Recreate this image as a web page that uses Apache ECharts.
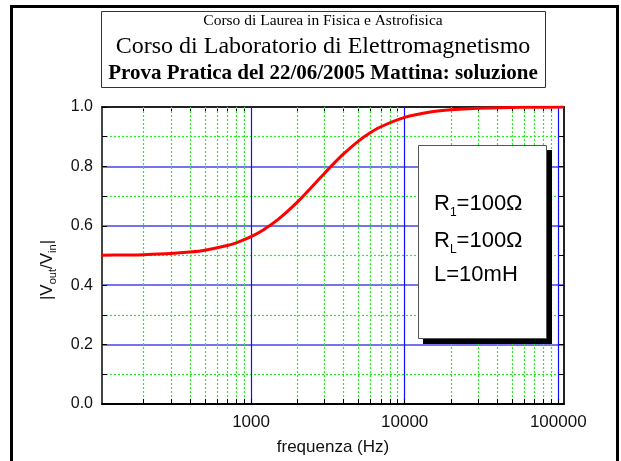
<!DOCTYPE html>
<html><head><meta charset="utf-8">
<script src="https://cdn.jsdelivr.net/npm/echarts@6/dist/echarts.min.js"></script>
<style>html,body{margin:0;padding:0;background:#fff}#c{width:621px;height:461px}</style>
</head><body><div id="c"></div>
<script>
// Data
const freq = [107,150,200,300,400,500,700,800,1000,1200,1500,2000,2500,3000,3500,4000,5000,6000,7000,10000,15000,20000,30000,50000,70000,109000];
const gain = [0.5008,0.5017,0.5029,0.5066,0.5115,0.5177,0.5335,0.5427,0.5634,0.5859,0.6215,0.6799,0.7322,0.7764,0.8127,0.8421,0.8853,0.9139,0.9335,0.9649,0.9837,0.9907,0.9958,0.9985,0.9992,0.9997];
const xMajorTicks = [1000,10000,100000];
const xMinorTicks = [200,300,400,500,600,700,800,900,2000,3000,4000,5000,6000,7000,8000,9000,20000,30000,40000,50000,60000,70000,80000,90000];
const titleLines = ['Corso di Laurea in Fisica e Astrofisica','Corso di Laboratorio di Elettromagnetismo','Prova Pratica del 22/06/2005 Mattina: soluzione'];
const xName = 'frequenza (Hz)';
const xMin = 107, xMax = 109000;

const chart = echarts.init(document.getElementById('c'), null, {renderer:'canvas'});
const sans = 'Liberation Sans, Arial, sans-serif';
const serif = 'Liberation Serif, Times New Roman, serif';
const green = '#22f022';
const legendRich = {m:{fontSize:22, fontFamily:sans, lineHeight:30, verticalAlign:'middle', fill:'#000'}, s:{fontSize:12, fontFamily:sans, lineHeight:12, verticalAlign:'bottom', fill:'#000'}};
const option = {
  backgroundColor:'#fff',
  animation:false,
  grid:{left:102, top:107, width:462, height:299, containLabel:false},
  xAxis:[
    {type:'log', logBase:10, min:xMin, max:xMax, position:'bottom', z:3,
     axisLine:{show:true, onZero:false, lineStyle:{color:'#000', width:2}},
     axisTick:{show:true, inside:true, length:5, customValues:xMajorTicks, lineStyle:{color:'#000', width:1}},
     axisLabel:{show:true, customValues:xMajorTicks, margin:10, fontSize:17, color:'#111', fontFamily:sans, formatter:v=>String(Math.round(v))},
     splitLine:{show:true, lineStyle:{color:'#1010ff', width:1.2}},
     name:xName, nameLocation:'middle', nameGap:35, nameTextStyle:{fontSize:17, color:'#111', fontFamily:sans}
    },
    {type:'log', logBase:10, min:xMin, max:xMax, position:'bottom', z:2,
     axisLine:{show:false},
     axisTick:{show:true, inside:true, length:5, customValues:xMinorTicks, lineStyle:{color:'#000', width:1}},
     axisLabel:{show:false},
     splitLine:{show:true, lineStyle:{color:green, width:1.2, type:[2,2]}}
    },
    {type:'log', logBase:10, min:xMin, max:xMax, position:'top',
     axisLine:{show:true, onZero:false, lineStyle:{color:'#222', width:2}},
     axisTick:{show:true, inside:true, length:5, customValues:xMajorTicks.concat(xMinorTicks), lineStyle:{color:'#000', width:1}},
     axisLabel:{show:false},
     splitLine:{show:false}
    }
  ],
  yAxis:[
    {type:'value', min:0, max:1, interval:0.2, position:'left',
     axisLine:{show:true, onZero:false, lineStyle:{color:'#444', width:2}},
     axisTick:{show:true, inside:true, length:5, lineStyle:{color:'#000'}},
     minorTick:{show:true, splitNumber:2, length:5, lineStyle:{color:'#000'}},
     axisLabel:{formatter:v=>v.toFixed(1), fontSize:16, color:'#111', fontFamily:sans, margin:9},
     splitLine:{show:true, lineStyle:{color:'#7474ee', width:2}},
     minorSplitLine:{show:true, lineStyle:{color:green, width:1.2, type:[2,2]}}
    },
    {type:'value', min:0, max:1, interval:0.2, position:'right',
     axisLine:{show:true, onZero:false, lineStyle:{color:'#222', width:2}},
     axisTick:{show:true, inside:true, length:5, lineStyle:{color:'#000'}},
     minorTick:{show:true, splitNumber:2, length:5, lineStyle:{color:'#000'}},
     axisLabel:{show:false},
     splitLine:{show:false}
    }
  ],
  series:[
    {type:'line', xAxisIndex:0, yAxisIndex:0, data:freq.map((f,i)=>[f,gain[i]]),
     showSymbol:false, smooth:0.3, lineStyle:{color:'#ff0000', width:3}, z:10}
  ],
  graphic:[
    {type:'rect', shape:{x:11.5, y:6.5, width:606, height:480}, style:{fill:'none', stroke:'#000', lineWidth:3}, z:1},
    {type:'rect', shape:{x:101.5, y:11.5, width:444, height:76}, style:{fill:'#fff', stroke:'#333', lineWidth:1}, z:50},
    {type:'text', x:323, y:21, style:{text:titleLines[0], font:'15.5px '+serif, fill:'#000', align:'center', verticalAlign:'middle'}, z:51},
    {type:'text', x:323, y:47, style:{text:titleLines[1], font:'24px '+serif, fill:'#000', align:'center', verticalAlign:'middle'}, z:51},
    {type:'text', x:323, y:74, style:{text:titleLines[2], font:'bold 21px '+serif, fill:'#000', align:'center', verticalAlign:'middle'}, z:51},
    {type:'rect', shape:{x:423, y:150, width:129, height:194}, style:{fill:'#000'}, z:100},
    {type:'rect', shape:{x:418.5, y:145.5, width:128, height:193}, style:{fill:'#fff', stroke:'#555', lineWidth:1}, z:101},
    {type:'text', x:434, y:204, z:102, style:{text:'{m|R}{s|1}{m|=100Ω}', align:'left', verticalAlign:'middle', rich:legendRich}},
    {type:'text', x:434, y:241, z:102, style:{text:'{m|R}{s|L}{m|=100Ω}', align:'left', verticalAlign:'middle', rich:legendRich}},
    {type:'text', x:434, y:275, z:102, style:{text:'{m|L=10mH}', align:'left', verticalAlign:'middle', rich:legendRich}},
    {type:'text', x:47, y:270, rotation:Math.PI/2, z:102, style:{text:'{m||V}{s|out}{m|/V}{s|in}{m||}', align:'center', verticalAlign:'middle',
      rich:{m:{fontSize:17, fontFamily:sans, lineHeight:23, verticalAlign:'middle', fill:'#111'}, s:{fontSize:11, fontFamily:sans, lineHeight:11, verticalAlign:'bottom', fill:'#111'}}}}
  ]
};
chart.setOption(option);
</script>
</body></html>
